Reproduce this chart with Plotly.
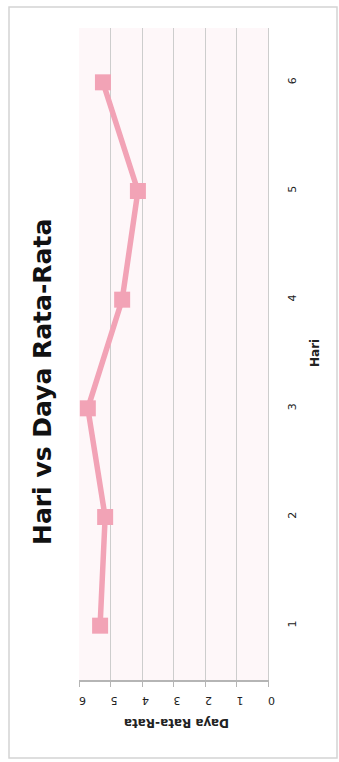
import plotly.graph_objects as go

# Data
hari = [1, 2, 3, 4, 5, 6]
daya = [5.33, 5.17, 5.72, 4.63, 4.13, 5.24]
daya_ticks = [0, 1, 2, 3, 4, 5, 6]
hari_ticks = [1, 2, 3, 4, 5, 6]

title_text = "Hari vs Daya Rata-Rata"
x_title = "Daya Rata-Rata"
y_title = "Hari"

W, H = 339, 762
L, R, T, B = 79, 71, 28, 82
pw, ph = W - L - R, H - T - B

def px(xp):
    return (xp - L) / pw

def py(yp):
    return (H - B - yp) / ph

pink = "#F2A3B6"
grid = "#CDCDCD"

fig = go.Figure()
fig.add_trace(go.Scatter(
    x=daya, y=hari, mode="lines+markers",
    line=dict(color=pink, width=5.5),
    marker=dict(symbol="square", size=16, color=pink),
    showlegend=False, hoverinfo="skip",
))

fig.update_layout(
    width=W, height=H,
    margin=dict(l=L, r=R, t=T, b=B, pad=0),
    paper_bgcolor="white",
    plot_bgcolor="#FEF7F9",
    font=dict(family="DejaVu Sans", color="#222222"),
    xaxis=dict(
        range=[6, 0], tickvals=daya_ticks, ticktext=[str(v) for v in daya_ticks],
        tickangle=-180, showgrid=True, gridcolor=grid, gridwidth=1,
        showline=True, linecolor="#B5B5B5", linewidth=1.5,
        ticks="outside", ticklen=5, tickcolor="#B5B5B5",
        ticklabelstandoff=8,
        tickfont=dict(size=11, color="#222222"), zeroline=False,
        fixedrange=True,
    ),
    yaxis=dict(
        range=[0.5, 6.5], tickvals=hari_ticks, ticktext=[str(v) for v in hari_ticks],
        side="right", tickangle=-90, showgrid=False,
        showline=True, linecolor=grid, linewidth=1,
        ticks="", ticklabelstandoff=14,
        tickfont=dict(size=11, color="#222222"), zeroline=False,
        fixedrange=True,
    ),
    shapes=[dict(
        type="rect", xref="paper", yref="paper",
        x0=px(9), x1=px(337), y0=py(758), y1=py(7),
        line=dict(color="#D4D4D4", width=1.5), fillcolor="rgba(0,0,0,0)", layer="below",
    )],
    annotations=[
        dict(text=title_text, xref="paper", yref="paper", x=px(42), y=py(382),
             textangle=-90, showarrow=False, xanchor="center", yanchor="middle",
             font=dict(family="DejaVu Sans", size=25, color="#111111", weight="bold")),
        dict(text=x_title, xref="paper", yref="paper", x=px(177), y=py(723),
             textangle=180, showarrow=False, xanchor="center", yanchor="middle",
             font=dict(family="DejaVu Sans", size=12, color="#222222", weight="bold")),
        dict(text=y_title, xref="paper", yref="paper", x=px(315), y=py(353),
             textangle=-90, showarrow=False, xanchor="center", yanchor="middle",
             font=dict(family="DejaVu Sans", size=12, color="#222222", weight="bold")),
    ],
)

fig.write_html("out.html")
